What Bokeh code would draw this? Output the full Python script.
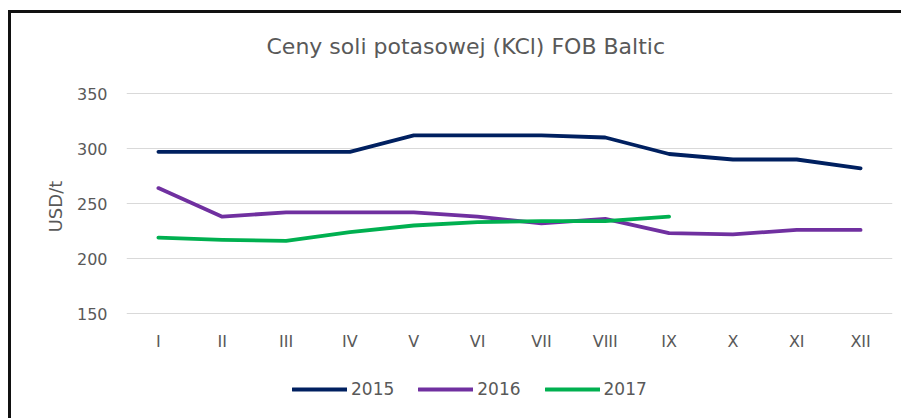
from bokeh.plotting import figure
from bokeh.models import Range1d, Legend, LegendItem, Label
from bokeh.core.properties import value
from bokeh.embed import file_html
from bokeh.resources import INLINE

months = ["I", "II", "III", "IV", "V", "VI", "VII", "VIII", "IX", "X", "XI", "XII"]
v2015 = [297, 297, 297, 297, 312, 312, 312, 310, 295, 290, 290, 282]
v2016 = [264, 238, 242, 242, 242, 238, 232, 236, 223, 222, 226, 226]
months2017 = ["I", "II", "III", "IV", "V", "VI", "VII", "VIII", "IX"]
v2017 = [219, 217, 216, 224, 230, 233, 234, 234, 238]
y_ticks = [150, 200, 250, 300, 350]

FONT = "DejaVu Sans"
GREY = "#595959"

# value axis shows 150..350 (1.1 px per unit); the frame also holds title, month labels and legend
PX = 1.1
y_start = 150 - 86 / PX
y_end = 350 + 80 / PX

p = figure(x_range=months, y_range=Range1d(y_start, y_end),
           output_backend="svg", toolbar_location=None,
           min_border_left=115, min_border_right=9, min_border_top=0, min_border_bottom=19)
p.frame_width = 766
p.frame_height = 386
p.styles = {"border-top": "3px solid #111", "border-left": "3px solid #111",
            "margin-left": "8px", "margin-top": "10px"}
p.outline_line_color = None
p.background_fill_color = "white"

p.add_layout(Label(x=0, y=350 + 47 / PX, x_offset=140, text="Ceny soli potasowej (KCl) FOB Baltic",
                   text_font=FONT, text_font_size="22px", text_color=GREY,
                   text_align="left", text_baseline="middle"))

p.xgrid.grid_line_color = None
p.xaxis.visible = False
p.ygrid.grid_line_color = "#D9D9D9"
p.ygrid.grid_line_width = 1
p.yaxis.ticker = y_ticks
ax = p.yaxis[0]
ax.axis_line_color = None
ax.major_tick_line_color = None
ax.minor_tick_line_color = None
ax.major_label_text_font = FONT
ax.major_label_text_font_size = "16px"
ax.major_label_text_color = GREY
ax.major_label_standoff = 13
ax.axis_label = "USD/t"
ax.axis_label_text_font = FONT
ax.axis_label_text_font_size = "18px"
ax.axis_label_text_font_style = "normal"
ax.axis_label_text_color = GREY
ax.axis_label_standoff = 8

# month (category) labels under the value area
p.text(x=months, y=150 - 28 / PX, text=months, text_font=value(FONT), text_font_size="16px",
       text_color=GREY, text_align="center", text_baseline="middle")

r1 = p.line(months, v2015, line_color="#002060", line_width=3.8, line_join="round", line_cap="round")
r2 = p.line(months, v2016, line_color="#7030A0", line_width=3.8, line_join="round", line_cap="round")
r3 = p.line(months2017, v2017, line_color="#00B050", line_width=3.8, line_join="round", line_cap="round")

legend = Legend(items=[LegendItem(label="2015", renderers=[r1]),
                       LegendItem(label="2016", renderers=[r2]),
                       LegendItem(label="2017", renderers=[r3])],
                orientation="horizontal", location=(166, 0),
                glyph_width=55, glyph_height=20, label_standoff=4, spacing=24,
                padding=0, margin=0, border_line_color=None, background_fill_alpha=0,
                label_text_font=FONT, label_text_font_size="17px", label_text_color=GREY)
p.add_layout(legend, "center")

open("out.html", "w").write(file_html(p, INLINE))
